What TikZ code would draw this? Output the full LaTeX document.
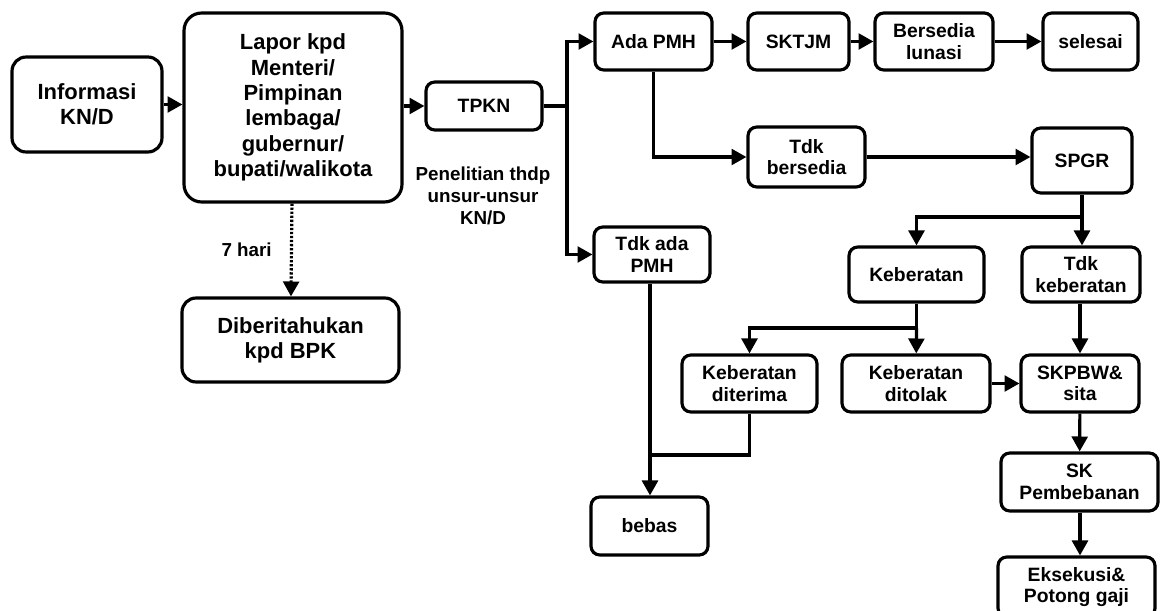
\documentclass[tikz,border=0pt]{standalone}
\usepackage{fontspec}
\setmainfont{Liberation Sans}
\usetikzlibrary{arrows.meta}
\begin{document}
\begin{tikzpicture}[x=0.02cm,y=-0.02cm,
    box/.style={draw,line width=1.8pt,rounded corners=5pt,align=center,inner sep=1pt,
      font=\fontsize{11}{12.2}\selectfont\bfseries},
    bigbox/.style={box,rounded corners=8pt,font=\fontsize{12.5}{14.4}\selectfont\bfseries},
    arr/.style={line width=1.8pt,-{Triangle[length=8.5pt,width=9pt]}},
    line/.style={line width=1.8pt}]
  \useasboundingbox (0,0) rectangle (1163,611);

  % left part
  \node[bigbox,minimum width=3cm,minimum height=1.9cm] (info) at (87,104.5) {Informasi\\KN/D};
  \node[bigbox,rounded corners=10pt,minimum width=4.36cm,minimum height=3.78cm] (lapor) at (293,107.5)
    {Lapor kpd\\Menteri/\\Pimpinan\\lembaga/\\gubernur/\\bupati/walikota};
  \node[bigbox,minimum width=4.34cm,minimum height=1.68cm] (diber) at (290.5,340) {Diberitahukan\\kpd BPK};
  \node[box,minimum width=2.32cm,minimum height=0.96cm] (tpkn) at (484,106) {TPKN};
  \node[align=center,font=\fontsize{10.7}{12.4}\selectfont\bfseries] (teliti) at (483,196)
    {Penelitian thdp\\unsur-unsur\\KN/D};

  % top row
  \node[box,minimum width=2.34cm,minimum height=1.14cm] (ada) at (653.5,41.5) {Ada PMH};
  \node[box,minimum width=2.02cm,minimum height=1.14cm] (sktjm) at (798.5,41.5) {SKTJM};
  \node[box,minimum width=2.36cm,minimum height=1.14cm] (lunasi) at (934,41.5) {Bersedia\\lunasi};
  \node[box,minimum width=1.9cm,minimum height=1.14cm] (selesai) at (1090.5,41.5) {selesai};
  \node[box,minimum width=2.34cm,minimum height=1.2cm] (tdkbersedia) at (806.5,157) {Tdk\\bersedia};
  \node[box,minimum width=2cm,minimum height=1.3cm] (spgr) at (1082,160.5) {SPGR};

  % lower part
  \node[box,minimum width=2.32cm,minimum height=1.1cm] (tdkada) at (652,254.5) {Tdk ada\\PMH};
  \node[box,minimum width=2.7cm,minimum height=1.1cm] (keberatan) at (916.5,274.5) {Keberatan};
  \node[box,minimum width=2.36cm,minimum height=1.1cm] (tdkkeberatan) at (1081,274.5) {Tdk\\keberatan};
  \node[box,minimum width=2.7cm,minimum height=1.14cm] (diterima) at (749.5,383.5) {Keberatan\\diterima};
  \node[box,minimum width=2.96cm,minimum height=1.14cm] (ditolak) at (916,383.5) {Keberatan\\ditolak};
  \node[box,minimum width=2.36cm,minimum height=1.14cm] (skpbw) at (1080,383.5) {SKPBW\&\\sita};
  \node[box,minimum width=3.14cm,minimum height=1.16cm] (skpemb) at (1079.5,482) {SK\\Pembebanan};
  \node[box,minimum width=3.14cm,minimum height=1.2cm] (eksekusi) at (1076.5,587) {Eksekusi\&\\Potong gaji};
  \node[box,minimum width=2.34cm,minimum height=1.16cm] (bebas) at (649.5,526) {bebas};

  % junctions
  \coordinate (split) at (567,106);
  \coordinate (jspgr) at (1082,217);
  \coordinate (jkeb) at (916.5,328);
  \coordinate (jbebas) at (650,455);

  % connectors
  \draw[arr] (info.east) -- (info.east -| lapor.west);
  \draw[arr] (lapor.east |- tpkn.west) -- (tpkn.west);
  \draw[arr,dash pattern=on 1.3pt off 1pt] (lapor) -- (diber)
    node[midway,left=7pt,font=\fontsize{10.7}{12}\selectfont\bfseries] (hari) {7 hari};
  \draw[line] (tpkn) -- (split);
  \draw[arr] (split) |- (ada);
  \draw[arr] (split) |- (tdkada);
  \draw[arr] (ada) -- (sktjm);
  \draw[arr] (sktjm) -- (lunasi);
  \draw[arr] (lunasi) -- (selesai);
  \draw[arr] (ada.south) |- (tdkbersedia.west);
  \draw[arr] (tdkbersedia.east) -- (tdkbersedia.east -| spgr.west);
  \draw[line] (spgr) -- (jspgr);
  \draw[arr] (jspgr) -- (jspgr |- tdkkeberatan.north);
  \draw[arr] (jspgr) -| (keberatan);
  \draw[line] (keberatan) -- (jkeb);
  \draw[arr] (jkeb) -- (ditolak);
  \draw[arr] (jkeb) -| (diterima);
  \draw[arr] (ditolak) -- (skpbw);
  \draw[arr] (tdkkeberatan.south -| skpbw) -- (skpbw);
  \draw[arr] (skpbw) -- (skpemb);
  \draw[arr] (skpemb.south -| skpbw) -- (skpbw |- eksekusi.north);
  \draw[arr] (tdkada.south -| jbebas) -- (jbebas |- bebas.north);
  \draw[line] (diterima) |- (jbebas);
\end{tikzpicture}
\end{document}
